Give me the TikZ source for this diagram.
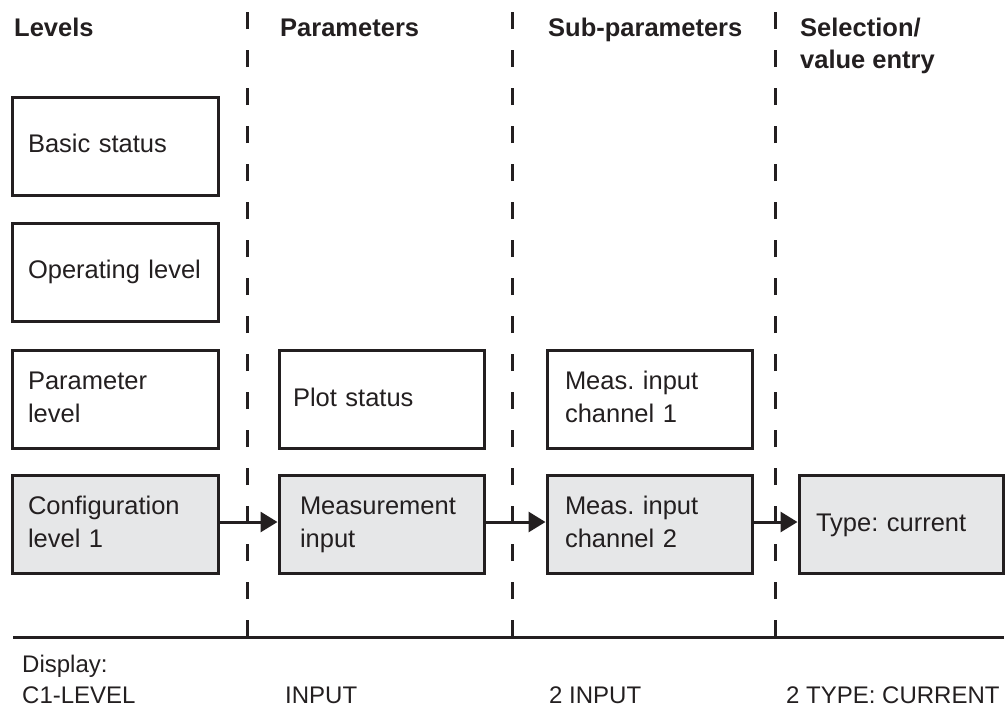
\documentclass[tikz,border=0pt]{standalone}
\usepackage{fontspec}
\setmainfont{Liberation Sans}
\usetikzlibrary{arrows.meta}
\definecolor{ink}{HTML}{231F20}
\definecolor{boxgrey}{HTML}{E6E7E8}
\frenchspacing
\begin{document}
\begin{tikzpicture}[x=1pt,y=-1pt,
  box/.style={draw=ink, line width=3pt, minimum height=98pt, text width=175pt,
    inner xsep=15pt, inner ysep=0pt, align=left,
    font=\fontsize{25.5}{33}\selectfont, text=ink},
  selbox/.style={box, fill=boxgrey},
  head/.style={anchor=base west, font=\bfseries\fontsize{25.5}{32}\selectfont,
    align=left, inner sep=0pt, text=ink},
  disp/.style={anchor=base west, font=\fontsize{24}{31}\selectfont,
    align=left, inner sep=0pt, text=ink},
  sepline/.style={draw=ink, line width=3pt, dash pattern=on 17pt off 21pt},
  flow/.style={draw=ink, line width=3pt, -{Triangle[length=17pt,width=20pt]}}
]
\useasboundingbox (0,0) rectangle (1007,707);

% headers
\node[head] (hLev) at (14,36) {Levels};
\node[head] (hPar) at (280,36) {Parameters};
\node[head] (hSub) at (548,36) {Sub-parameters};
\node[head] (hSel) at (800,68) {Selection/\\value entry};

% separators
\coordinate (s1b) at (247.5,637); \coordinate (s1t) at (247.5,10);
\coordinate (s2b) at (512.5,637); \coordinate (s2t) at (512.5,10);
\coordinate (s3b) at (775,637);   \coordinate (s3t) at (775,10);
\draw[sepline] (s1b) -- (s1t);
\draw[sepline] (s2b) -- (s2t);
\draw[sepline] (s3b) -- (s3t);
\coordinate (baseL) at (13,637); \coordinate (baseR) at (1004,637);
\draw[draw=ink, line width=3pt] (baseL) -- (baseR);

% boxes
\node[box, text width=174pt, inner xsep=16pt] (basic) at (115,146) {\strut Basic status};
\node[box, text width=174pt, inner xsep=16pt] (oper) at (115,272) {\strut\mbox{Operating level}};
\node[box, text width=174pt, inner xsep=16pt] (plev) at (115,399.5) {\strut Parameter\\\strut level};
\node[selbox, text width=174pt, inner xsep=16pt] (cfg) at (115,524.5) {\strut Configuration\\\strut level 1};

\node[box, text width=177pt, inner xsep=14pt] (plot) at (381.5,399.5) {\strut Plot status};
\node[selbox, text width=163pt, inner xsep=21pt] (meas) at (381.5,524.5) {\strut Measurement\\\strut input};

\node[box, text width=169pt, inner xsep=18pt] (ch1) at (649.5,399.5) {\strut Meas. input\\\strut channel 1};
\node[selbox, text width=169pt, inner xsep=18pt] (ch2) at (649.5,524.5) {\strut Meas. input\\\strut channel 2};

\node[selbox, text width=170pt, inner xsep=17pt] (type) at (901,524.5) {\strut Type: current};

% arrows
\draw[flow] ([yshift=2.5pt]cfg.east) -- ([yshift=2.5pt]meas.west);
\draw[flow] ([yshift=2.5pt]meas.east) -- ([yshift=2.5pt]ch2.west);
\draw[flow] ([yshift=2.5pt]ch2.east) -- ([yshift=2.5pt]type.west);

% display texts
\node[disp] (dLev) at (22,703) {Display:\\C1-LEVEL};
\node[disp] (dPar) at (285,703) {INPUT};
\node[disp] (dSub) at (549,703) {2 INPUT};
\node[disp] (dSel) at (786,703) {2 TYPE: CURRENT};
\end{tikzpicture}
\end{document}
